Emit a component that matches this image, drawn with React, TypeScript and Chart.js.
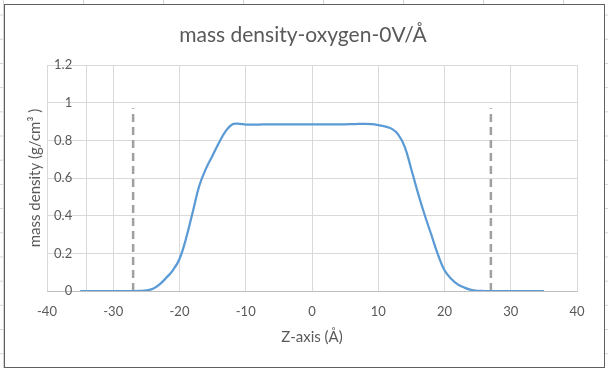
import React, { useEffect, useRef } from "react";
import { Chart, registerables } from "chart.js";

Chart.register(...registerables);

const TITLE = "mass density-oxygen-0V/Å";
const X_TITLE = "Z-axis (Å)";
const Y_TITLE = "mass density (g/cm³ )";

const zValues = [
  -35, -34, -33, -32, -31, -30, -29, -28, -27, -26, -25, -24, -23, -22, -21, -20,
  -19, -18, -17, -16, -15, -14, -13, -12, -11, -10, -9, -8, -7, -6, -5, -4, -3,
  -2, -1, 0, 1, 2, 3, 4, 5, 6, 7, 8, 9, 10, 11, 12, 13, 14, 15, 16, 17, 18, 19,
  20, 21, 22, 23, 24, 25, 26, 27, 28, 29, 30, 31, 32, 33, 34, 35,
];

const density = [
  0, 0, 0, 0, 0, 0, 0, 0, 0, 0.001, 0.003, 0.012, 0.035, 0.07, 0.11, 0.17,
  0.28, 0.42, 0.56, 0.65, 0.72, 0.79, 0.85, 0.885, 0.888, 0.884, 0.884, 0.884, 0.885, 0.885, 0.885, 0.885, 0.885,
  0.885, 0.885, 0.885, 0.885, 0.885, 0.885, 0.885, 0.885, 0.886, 0.887, 0.888, 0.886, 0.881, 0.874, 0.862, 0.832, 0.765, 0.645, 0.52, 0.405, 0.3, 0.195,
  0.11, 0.065, 0.035, 0.018, 0.006, 0.001, 0, 0, 0, 0, 0, 0, 0, 0, 0, 0,
];

const leftMarkerZ = [-27, -27];
const rightMarkerZ = [27, 27];
const markerDensity = [0, 0.97];

const xTicks = { min: -40, max: 40, step: 10 };
const yTicks = { min: 0, max: 1.2, step: 0.2 };
const yAxisCrossing = -34.1;
const yLabelAnchor = -36.2;

const FONT = "Lato, 'Open Sans', sans-serif";
const TEXT = "#595959";
const GRID = "#d9d9d9";

const toPoints = (xs: number[], ys: number[]) => xs.map((x, i) => ({ x, y: ys[i] }));

function DensityChart() {
  const ref = useRef<HTMLCanvasElement | null>(null);
  useEffect(() => {
    if (!ref.current) return;
    const chart = new Chart(ref.current, {
      type: "scatter",
      data: {
        datasets: [
          {
            data: toPoints(zValues, density),
            showLine: true,
            borderColor: "#5b9bd5",
            borderWidth: 2.25,
            tension: 0.4,
            pointRadius: 0,
          },
          {
            data: toPoints(leftMarkerZ, markerDensity),
            showLine: true,
            borderColor: "#a0a0a0",
            borderWidth: 2.5,
            borderDash: [8, 5],
            pointRadius: 0,
          },
          {
            data: toPoints(rightMarkerZ, markerDensity),
            showLine: true,
            borderColor: "#a0a0a0",
            borderWidth: 2.5,
            borderDash: [8, 5],
            pointRadius: 0,
          },
        ],
      },
      options: {
        animation: false,
        responsive: false,
        devicePixelRatio: 1,
        layout: { padding: { left: 10, right: 13, top: 0, bottom: 21 } },
        plugins: {
          legend: { display: false },
          tooltip: { enabled: false },
          title: {
            display: true,
            text: TITLE,
            color: TEXT,
            font: { family: FONT, size: 21, weight: "normal" },
            padding: { top: 17.4, bottom: 17.4 },
          },
        },
        scales: {
          x: {
            type: "linear",
            position: "bottom",
            min: xTicks.min,
            max: xTicks.max,
            ticks: { stepSize: xTicks.step, color: TEXT, font: { family: FONT, size: 13 }, padding: 13 },
            grid: { color: GRID, drawTicks: false },
            border: { color: "#bfbfbf" },
            title: {
              display: true,
              text: X_TITLE,
              color: TEXT,
              font: { family: FONT, size: 15 },
              padding: { top: -4.6, bottom: 0 },
            },
          },
          y: {
            type: "linear",
            axis: "y",
            position: { x: yLabelAnchor },
            min: yTicks.min,
            max: yTicks.max,
            ticks: {
              stepSize: yTicks.step,
              color: TEXT,
              font: { family: FONT, size: 13 },
              callback: (v: any) => String(Number(Number(v).toFixed(1))),
            },
            grid: { color: GRID, drawTicks: false },
            border: { display: false },
          },
          yAxisLine: {
            type: "linear",
            axis: "y",
            position: { x: yAxisCrossing },
            min: yTicks.min,
            max: yTicks.max,
            ticks: { display: false },
            grid: { display: false, drawTicks: false },
            border: { display: true, color: GRID },
          },
          yTitleAxis: {
            type: "linear",
            axis: "y",
            position: "left",
            min: yTicks.min,
            max: yTicks.max,
            ticks: { display: false },
            grid: { display: false, drawTicks: false },
            border: { display: false },
            title: {
              display: true,
              text: Y_TITLE,
              color: TEXT,
              font: { family: FONT, size: 15 },
              padding: { top: 11, bottom: 3 },
            },
            afterFit: (s: any) => {
              s.width = 32;
            },
          },
          ySpacerRight: {
            type: "linear",
            axis: "y",
            position: "right",
            min: yTicks.min,
            max: yTicks.max,
            ticks: { display: false },
            grid: { display: false, drawTicks: false },
            border: { display: false },
            afterFit: (s: any) => {
              s.width = 14;
            },
          },
        },
      },
    } as any);
    return () => chart.destroy();
  }, []);
  return <canvas ref={ref} width={599} height={362} style={{ display: "block", width: 599, height: 362 }} />;
}

export default function App() {
  return (
    <div
      style={{
        position: "fixed",
        left: 0,
        top: 0,
        width: 608,
        height: 368,
        background: "#ffffff",
        backgroundImage:
          "linear-gradient(to right, #d4d4d4 1px, transparent 1px), linear-gradient(to bottom, #d4d4d4 1px, transparent 1px)",
        backgroundSize: "80px 24.2px",
        backgroundPosition: "3px 14.6px",
        overflow: "hidden",
      }}
    >
      <div
        style={{
          position: "absolute",
          left: 4,
          top: 4,
          width: 601,
          height: 364,
          boxSizing: "border-box",
          border: "1px solid #5f5f5f",
          background: "#ffffff",
        }}
      >
        <DensityChart />
      </div>
    </div>
  );
}
